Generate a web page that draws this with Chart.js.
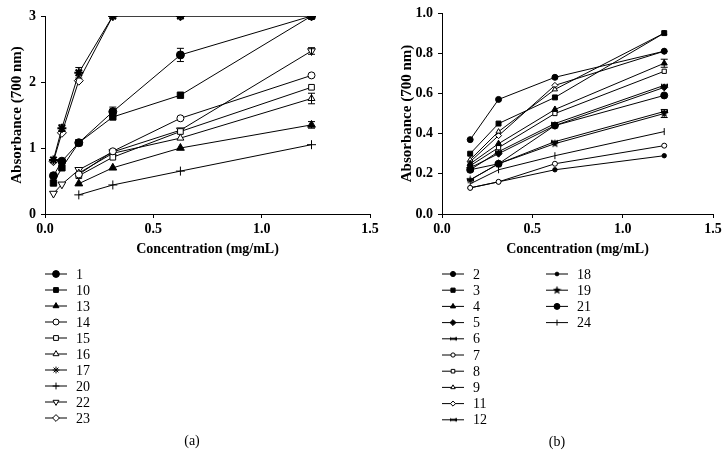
<!DOCTYPE html>
<html>
<head>
<meta charset="utf-8">
<script src="https://cdn.jsdelivr.net/npm/chart.js@4.4.0/dist/chart.umd.min.js"></script>
<style>
  html, body { margin: 0; padding: 0; background: #fff; }
  #wrap { position: relative; width: 726px; height: 468px; }
  #chartA { position: absolute; left: 0; top: 0; }
  #chartB { position: absolute; left: 385px; top: 0; }
</style>
</head>
<body>
<div id="wrap">
  <canvas id="chartA" width="385" height="468"></canvas>
  <canvas id="chartB" width="341" height="468"></canvas>
</div>
<script>
// ---- panel (a) ----
const concA = [0.039, 0.078, 0.156, 0.313, 0.625, 1.23];
const a1  = [0.58, 0.80, 1.08, 1.55, 2.41, 3.00];
const a10 = [0.47, 0.70, 1.08, 1.47, 1.80, 3.00];
const a13 = [null, null, 0.46, 0.70, 1.00, 1.35];
const a14 = [null, null, 0.60, 0.95, 1.45, 2.10];
const a15 = [null, null, 0.58, 0.86, 1.25, 1.92];
const a16 = [null, null, 0.62, 0.92, 1.15, 1.75];
const a17 = [0.82, 1.30, 2.14, 3.00, 3.00, 3.00];
const a20 = [null, null, 0.29, 0.44, 0.65, 1.05];
const a22 = [0.31, 0.45, 0.67, 0.94, 1.27, 2.47];
const a23 = [0.80, 1.23, 2.02, 3.00, 3.00, 3.00];
// error bars (a)
const err1  = [0, 0, 0, 0.07, 0.10, 0];
const err13 = [0, 0, 0, 0, 0, 0.05];
const err16 = [0, 0, 0, 0, 0, 0.08];
const err17 = [0, 0.05, 0.08, 0, 0, 0];
const err22 = [0, 0, 0, 0, 0, 0.05];

// ---- panel (b) ----
const concB = [0.156, 0.313, 0.625, 1.23];
const b2  = [0.37, 0.57, 0.68, 0.81];
const b3  = [0.30, 0.45, 0.58, 0.90];
const b4  = [0.25, 0.35, 0.52, 0.75];
const b5  = [0.23, 0.30, 0.44, 0.63];
const b6  = [0.17, 0.25, 0.36, 0.51];
const b7  = [0.13, 0.16, 0.25, 0.34];
const b8  = [0.24, 0.33, 0.50, 0.71];
const b9  = [0.27, 0.41, 0.62, 0.90];
const b11 = [0.26, 0.39, 0.64, 0.81];
const b12 = [0.22, 0.31, 0.45, 0.64];
const b18 = [0.13, 0.16, 0.22, 0.29];
const b19 = [0.17, 0.25, 0.35, 0.50];
const b21 = [0.22, 0.25, 0.44, 0.59];
const b24 = [0.15, 0.22, 0.29, 0.41];
const err19 = [0, 0, 0, 0.02];
const err4b = [0, 0, 0, 0.02];

const xTicks = [0, 0.5, 1.0, 1.5];

// custom marker images
function makeStar(size) {
  const c = document.createElement('canvas');
  c.width = size; c.height = size;
  const g = c.getContext('2d');
  const cx = size / 2, cy = size / 2, R = size / 2, r = R * 0.42;
  g.beginPath();
  for (let i = 0; i < 10; i++) {
    const ang = -Math.PI / 2 + i * Math.PI / 5;
    const rad = i % 2 === 0 ? R : r;
    g.lineTo(cx + rad * Math.cos(ang), cy + rad * Math.sin(ang));
  }
  g.closePath();
  g.fillStyle = '#000';
  g.fill();
  return c;
}
function makeBowtie(size) {
  const c = document.createElement('canvas');
  c.width = size; c.height = size;
  const g = c.getContext('2d');
  const m = size / 2, t = size * 0.2;
  g.fillStyle = '#000';
  g.beginPath();
  g.moveTo(0, t); g.lineTo(m, m); g.lineTo(0, size - t); g.closePath();
  g.moveTo(size, t); g.lineTo(m, m); g.lineTo(size, size - t); g.closePath();
  g.fill();
  g.fillRect(m - 1, m - 1, 2, 2);
  return c;
}
const starImg = makeStar(9);
const bowImg = makeBowtie(7);

function toPoints(xs, ys) {
  return xs.map((x, i) => ({ x: x, y: ys[i] }));
}

function series(label, xs, ys, style) {
  return Object.assign({
    label: label,
    data: toPoints(xs, ys),
    borderColor: '#000',
    borderWidth: 1,
    backgroundColor: '#000',
    pointBackgroundColor: '#000',
    pointBorderColor: '#000',
    pointBorderWidth: 1,
    pointRadius: 4,
    pointRotation: 0,
    pointStyle: 'circle',
    tension: 0,
    fill: false
  }, style);
}

const datasetsA = [
  series('1', concA, a1, { pointStyle: 'circle', pointRadius: 4, errors: err1 }),
  series('10', concA, a10, { pointStyle: 'rect', pointRadius: 4.5 }),
  series('13', concA, a13, { pointStyle: 'triangle', pointRadius: 4.5, errors: err13 }),
  series('14', concA, a14, { pointStyle: 'circle', pointRadius: 3.5, pointBackgroundColor: '#fff' }),
  series('15', concA, a15, { pointStyle: 'rect', pointRadius: 4, pointBackgroundColor: '#fff' }),
  series('16', concA, a16, { pointStyle: 'triangle', pointRadius: 4, pointBackgroundColor: '#fff', errors: err16 }),
  series('17', concA, a17, { pointStyle: 'star', pointRadius: 4.5, pointBorderWidth: 2, errors: err17 }),
  series('20', concA, a20, { pointStyle: 'cross', pointRadius: 4.5 }),
  series('22', concA, a22, { pointStyle: 'triangle', pointRadius: 4.5, pointRotation: 180, pointBackgroundColor: '#fff', errors: err22 }),
  series('23', concA, a23, { pointStyle: 'rectRot', pointRadius: 4.5, pointBackgroundColor: '#fff' })
];

const datasetsB = [
  series('2', concB, b2, { pointStyle: 'circle', pointRadius: 3 }),
  series('3', concB, b3, { pointStyle: 'rect', pointRadius: 3.5 }),
  series('4', concB, b4, { pointStyle: 'triangle', pointRadius: 3.5, errors: err4b }),
  series('5', concB, b5, { pointStyle: 'rectRot', pointRadius: 3.5 }),
  series('6', concB, b6, { pointStyle: bowImg }),
  series('7', concB, b7, { pointStyle: 'circle', pointRadius: 2.5, pointBackgroundColor: '#fff' }),
  series('8', concB, b8, { pointStyle: 'rect', pointRadius: 3, pointBackgroundColor: '#fff' }),
  series('9', concB, b9, { pointStyle: 'triangle', pointRadius: 3, pointBackgroundColor: '#fff' }),
  series('11', concB, b11, { pointStyle: 'rectRot', pointRadius: 3, pointBackgroundColor: '#fff' }),
  series('12', concB, b12, { pointStyle: bowImg }),
  series('18', concB, b18, { pointStyle: 'circle', pointRadius: 2.2 }),
  series('19', concB, b19, { pointStyle: starImg, errors: err19 }),
  series('21', concB, b21, { pointStyle: 'circle', pointRadius: 3.5 }),
  series('24', concB, b24, { pointStyle: 'line', pointRadius: 3.5, pointRotation: 90 })
];

// vertical error bars with caps
const errorBars = {
  id: 'errorBars',
  afterDatasetsDraw(chart) {
    const ctx = chart.ctx;
    const yScale = chart.scales.y;
    ctx.save();
    ctx.strokeStyle = '#000';
    ctx.lineWidth = 1;
    chart.data.datasets.forEach((ds, i) => {
      if (!ds.errors) return;
      const meta = chart.getDatasetMeta(i);
      ds.errors.forEach((e, j) => {
        const p = ds.data[j];
        if (!e || p.y == null) return;
        const x = meta.data[j].x;
        const yTop = yScale.getPixelForValue(p.y + e);
        const yBot = yScale.getPixelForValue(p.y - e);
        ctx.beginPath();
        ctx.moveTo(x, yTop); ctx.lineTo(x, yBot);
        ctx.moveTo(x - 3.5, yTop); ctx.lineTo(x + 3.5, yTop);
        ctx.moveTo(x - 3.5, yBot); ctx.lineTo(x + 3.5, yBot);
        ctx.stroke();
      });
    });
    ctx.restore();
  }
};

// legend list + panel caption drawn below the axes
function legendPlugin(cfg) {
  return {
    id: 'listLegend',
    afterDraw(chart) {
      const ctx = chart.ctx;
      ctx.save();
      ctx.font = '14px "Liberation Serif", "Times New Roman", serif';
      ctx.textBaseline = 'middle';
      ctx.textAlign = 'left';
      chart.data.datasets.forEach((ds, i) => {
        const col = Math.floor(i / cfg.perCol);
        const row = i % cfg.perCol;
        const x0 = cfg.colX[col];
        const y = cfg.top + row * cfg.step;
        ctx.strokeStyle = '#000';
        ctx.lineWidth = 1;
        ctx.beginPath();
        ctx.moveTo(x0, y); ctx.lineTo(x0 + cfg.lineLen, y);
        ctx.stroke();
        ctx.fillStyle = ds.pointBackgroundColor;
        ctx.strokeStyle = '#000';
        Chart.helpers.drawPoint(ctx, {
          pointStyle: ds.pointStyle,
          radius: Math.min(ds.pointRadius, 4) * 0.85,
          rotation: ds.pointRotation,
          borderWidth: ds.pointBorderWidth
        }, x0 + cfg.lineLen / 2, y);
        ctx.fillStyle = '#000';
        ctx.fillText(ds.label, x0 + cfg.lineLen + 9, y + 1);
      });
      ctx.textAlign = 'center';
      ctx.fillText(cfg.caption, cfg.captionX, cfg.captionY);
      ctx.restore();
    }
  };
}

function makeOptions(yMax, yStep, yDecimals, yWidth, yTitlePad, padding) {
  return {
    responsive: false,
    animation: false,
    events: [],
    layout: { padding: padding },
    plugins: { legend: { display: false }, tooltip: { enabled: false } },
    scales: {
      x: {
        type: 'linear',
        min: 0, max: 1.5,
        afterBuildTicks(scale) { scale.ticks = xTicks.map(v => ({ value: v })); },
        afterFit(scale) {
          scale.height = 468 - 214;
          scale.paddingLeft = 0; scale.paddingRight = 0;
        },
        border: { display: true, color: '#000', width: 1 },
        grid: { drawOnChartArea: false, drawTicks: true, tickLength: 4, color: '#000' },
        ticks: {
          color: '#000', padding: 3, maxRotation: 0,
          font: { family: '"Liberation Serif", "Times New Roman", serif', size: 14, weight: 'bold' },
          callback: v => v.toFixed(1)
        },
        title: {
          display: true, text: 'Concentration (mg/mL)', color: '#000',
          font: { family: '"Liberation Serif", "Times New Roman", serif', size: 14, weight: 'bold' },
          padding: { top: 0, bottom: 210 }
        }
      },
      y: {
        type: 'linear',
        min: 0, max: yMax,
        ticks: {
          stepSize: yStep, color: '#000', padding: 5,
          font: { family: '"Liberation Serif", "Times New Roman", serif', size: 14, weight: 'bold' },
          callback: v => v.toFixed(yDecimals)
        },
        afterFit(scale) {
          scale.width = yWidth;
          scale.paddingTop = 0; scale.paddingBottom = 0;
        },
        border: { display: true, color: '#000', width: 1 },
        grid: { drawOnChartArea: false, drawTicks: true, tickLength: 4, color: '#000' },
        title: {
          display: true, text: 'Absorbance (700 nm)', color: '#000',
          font: { family: '"Liberation Serif", "Times New Roman", serif', size: 15, weight: 'bold' },
          padding: { top: yTitlePad, bottom: 0 }
        }
      }
    }
  };
}

new Chart(document.getElementById('chartA'), {
  type: 'line',
  data: { datasets: datasetsA },
  options: makeOptions(3, 1, 0, 45, 8, { left: 0, right: 15, top: 16, bottom: 0 }),
  plugins: [errorBars, legendPlugin({
    perCol: 10, colX: [45], lineLen: 22, top: 274, step: 16,
    caption: '(a)', captionX: 192, captionY: 441
  })]
});

new Chart(document.getElementById('chartB'), {
  type: 'line',
  data: { datasets: datasetsB },
  options: makeOptions(1, 0.2, 1, 57, 13, { left: 0, right: 13, top: 13, bottom: 0 }),
  plugins: [errorBars, legendPlugin({
    perCol: 10, colX: [57, 161], lineLen: 22, top: 274, step: 16.2,
    caption: '(b)', captionX: 172, captionY: 442
  })]
});
</script>
</body>
</html>
